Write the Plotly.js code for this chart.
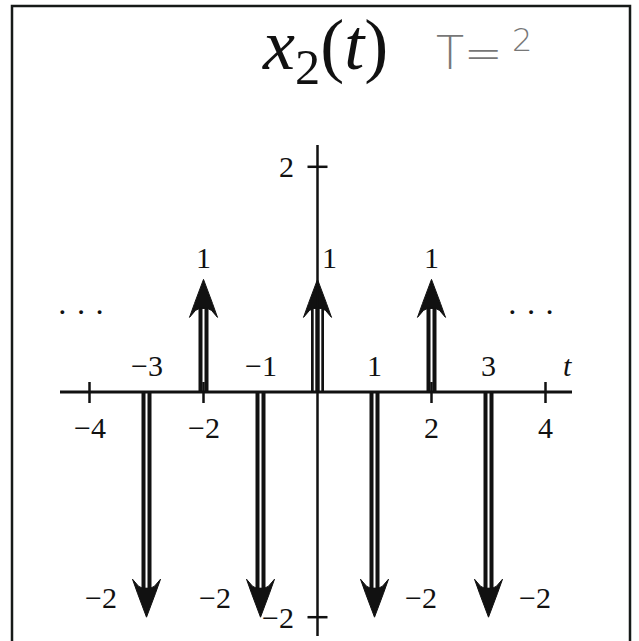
<!DOCTYPE html>
<html><head><meta charset="utf-8">
<script src="https://cdn.plot.ly/plotly-3.0.1.min.js"></script>
<style>html,body{margin:0;padding:0;background:#fff}</style>
</head><body><div id="chart" style="width:639px;height:641px"></div>
<script>
// Periodic impulse train x2(t) with period T = 2
const impulseT = [-3, -2, -1, 0, 1, 2, 3];
const impulseA = [-2, 1, -2, 1, -2, 1, -2];
const tickT = [-4, -3, -2, -1, 1, 2, 3, 4];
const tickText = ['−4', '−3', '−2', '−1', '1', '2', '3', '4'];
const yTickV = [2, -2];
const yTickText = ['2', '−2'];

const W = 639, H = 641;
const X0 = 317.5, Y0 = 392;      // pixel position of the origin
const SX = 57, SY = 112.6;       // pixels per unit on each axis
const xRange = [-X0 / SX, (W - X0) / SX];
const yRange = [-(H - Y0) / SY, Y0 / SY];
const dx = p => p / SX, dy = p => p / SY;
const px = p => (p - X0) / SX, py = p => (Y0 - p) / SY;
const INK = '#111';
const FONT = '"Liberation Serif", "DejaVu Serif", serif';
const LBL = 30;

const traces = [];
// arrowhead outline in pixels, tip at origin, measured back along the shaft
const head = [[0,0],[4,10],[9,24],[14,38],[8,31],[4,29],[-4,29],[-8,31],[-14,38],[-9,24],[-4,10],[0,0]];
impulseT.forEach((t, i) => {
  const a = impulseA[i], s = Math.sign(a);
  const onAxis = t === 0;
  traces.push({x: [t, t], y: [0, a - s * dy(27)], mode: 'lines',
    line: {color: INK, width: onAxis ? 13 : 10}, hoverinfo: 'skip'});
  // white gap(s) inside the double shaft; the vertical axis runs between two gaps at t = 0
  (onAxis ? [-3, 3] : [0]).forEach(o => traces.push({x: [t + dx(o), t + dx(o)], y: [0, a - s * dy(29)],
    mode: 'lines', line: {color: '#fff', width: onAxis ? 1.6 : 2}, hoverinfo: 'skip'}));
  traces.push({x: head.map(p => t + dx(p[0])), y: head.map(p => a - s * dy(p[1])),
    mode: 'lines', fill: 'toself', fillcolor: INK, line: {color: INK, width: 1}, hoverinfo: 'skip'});
});

const shapes = [];
// t axis and vertical axis
shapes.push({type: 'line', xref: 'x', yref: 'y', x0: px(60), x1: px(572), y0: 0, y1: 0,
  line: {color: INK, width: 3}, layer: 'above'});
shapes.push({type: 'line', xref: 'x', yref: 'y', x0: 0, x1: 0, y0: py(145), y1: py(636),
  line: {color: INK, width: 2.5}, layer: 'above'});
tickT.forEach(t => {
  if (t % 2 === 0) shapes.push({type: 'line', xref: 'x', yref: 'y', x0: t, x1: t,
    y0: dy(10), y1: -dy(11), line: {color: INK, width: 2.5}, layer: 'above'});
});
yTickV.forEach(v => shapes.push({type: 'line', xref: 'x', yref: 'y', x0: -dx(10), x1: dx(10),
  y0: v, y1: v, line: {color: INK, width: 2.5}, layer: 'above'}));
// page frame
shapes.push({type: 'rect', xref: 'paper', yref: 'paper', x0: 12 / W, x1: 630 / W,
  y0: -0.05, y1: 1 - 6 / H, line: {color: '#161a18', width: 2.5}});

const ann = [];
const txt = (o) => Object.assign({showarrow: false, font: {family: FONT, size: LBL, color: INK},
  xref: 'x', yref: 'y', xanchor: 'center', yanchor: 'middle'}, o);
tickT.forEach((t, i) => {
  const odd = Math.abs(t) % 2 === 1;
  ann.push(txt({x: t, y: 0, text: tickText[i], yshift: odd ? 27 : -35}));
});
ann.push(txt({x: px(567), y: 0, yshift: 27, text: '<i>t</i>'}));
yTickV.forEach((v, i) => ann.push(txt({x: 0, y: v, text: yTickText[i], xanchor: 'right', xshift: -22})));
impulseT.forEach((t, i) => {
  const a = impulseA[i];
  const label = a < 0 ? '−' + Math.abs(a) : String(a);
  if (a > 0) ann.push(txt({x: t, y: a, text: label, yshift: 22, xshift: t === 0 ? 12 : 0}));
  else ann.push(txt({x: t, y: a, text: label, yshift: 20, xshift: t < 0 ? -46 : 46}));
});
ann.push(txt({x: px(81), y: py(312), text: '· · ·', font: {family: FONT, size: 32, color: INK}}));
ann.push(txt({x: px(531), y: py(312), text: '· · ·', font: {family: FONT, size: 32, color: INK}}));
// heading and the period note
ann.push({xref: 'paper', yref: 'paper', x: 260 / W, y: 1 - 50 / H, xanchor: 'left', yanchor: 'middle',
  showarrow: false, text: '<i>x</i><sub>2</sub>(<i>t</i>)', font: {family: FONT, size: 72, color: INK}});
ann.push({xref: 'paper', yref: 'paper', x: 434 / W, y: 1 - 53 / H, xanchor: 'left', yanchor: 'middle',
  showarrow: false, text: 'T=', font: {family: 'DejaVu Sans', size: 46, weight: 200, color: '#777'}});
ann.push({xref: 'paper', yref: 'paper', x: 510 / W, y: 1 - 40 / H, xanchor: 'left', yanchor: 'middle',
  showarrow: false, text: '2', font: {family: 'DejaVu Sans', size: 32, weight: 200, color: '#777'}});

const layout = {
  width: W, height: H, margin: {l: 0, r: 0, t: 0, b: 0},
  paper_bgcolor: '#fff', plot_bgcolor: '#fff', showlegend: false,
  xaxis: {range: xRange, visible: false, fixedrange: true},
  yaxis: {range: yRange, visible: false, fixedrange: true},
  shapes: shapes, annotations: ann
};
Plotly.newPlot('chart', traces, layout, {staticPlot: true, displayModeBar: false});
</script></body></html>
